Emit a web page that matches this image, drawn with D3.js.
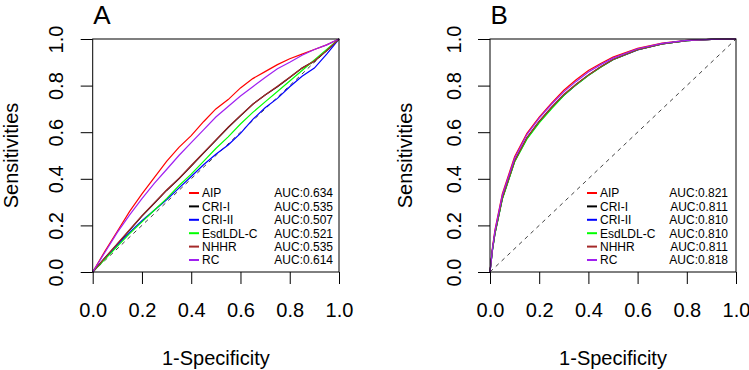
<!DOCTYPE html>
<html>
<head>
<meta charset="utf-8">
<script src="https://cdn.jsdelivr.net/npm/d3@7"></script>
<style>
  html, body { margin: 0; padding: 0; background: #fff; }
  svg text { font-family: "Liberation Sans", Arial, sans-serif; fill: #000; }
</style>
</head>
<body>
<svg id="chart" width="749" height="370"></svg>
<script>
// ---------------- data ----------------
const seriesNames = ["AIP", "CRI-I", "CRI-II", "EsdLDL-C", "NHHR", "RC"];
const seriesColors = ["#FF0000", "#000000", "#0000FF", "#00FF00", "#A52A2A", "#A020F0"];
const aucA = ["0.634", "0.535", "0.507", "0.521", "0.535", "0.614"];
const aucB = ["0.821", "0.811", "0.810", "0.810", "0.811", "0.818"];
const tickValues = [0, 0.2, 0.4, 0.6, 0.8, 1.0];
const tickLabels = ["0.0", "0.2", "0.4", "0.6", "0.8", "1.0"];

// Panel A (1-specificity grid)
const fprA = [0, .05, .1, .15, .2, .25, .3, .35, .4, .45, .5, .55, .6, .65, .7, .75, .8, .85, .9, .95, 1];
const tprA_AIP  = [0, .09, .175, .26, .335, .405, .475, .535, .585, .645, .70, .74, .79, .83, .86, .89, .915, .935, .955, .975, 1];
const tprA_CRI1 = [0, .06, .12, .18, .24, .295, .35, .40, .455, .51, .565, .62, .67, .72, .76, .795, .835, .875, .905, .95, 1];
const tprA_CRI2 = [0, .06, .115, .17, .22, .265, .31, .36, .41, .46, .505, .545, .595, .655, .705, .745, .795, .84, .875, .935, 1];
const tprA_Esd  = [0, .055, .11, .165, .215, .265, .315, .37, .42, .475, .53, .58, .635, .685, .73, .775, .82, .865, .91, .955, 1];
const tprA_NHHR = [0, .062, .122, .182, .242, .297, .352, .402, .457, .512, .567, .622, .672, .72, .76, .797, .836, .875, .906, .95, 1];
const tprA_RC   = [0, .085, .17, .245, .315, .38, .44, .50, .555, .61, .665, .71, .755, .795, .835, .872, .90, .93, .955, .975, 1];

// Panel B
const fprB = [0, .01, .02, .05, .1, .15, .2, .25, .3, .35, .4, .45, .5, .6, .7, .8, .9, 1];
const tprB_AIP  = [0, .105, .18, .335, .495, .595, .665, .725, .78, .825, .865, .895, .922, .96, .982, .994, .998, 1];
const tprB_CRI1 = [0, .095, .165, .315, .475, .575, .645, .705, .76, .805, .845, .88, .912, .954, .979, .993, .998, 1];
const tprB_CRI2 = [0, .095, .165, .315, .475, .573, .643, .703, .758, .803, .844, .88, .911, .953, .979, .993, .998, 1];
const tprB_Esd  = [0, .093, .163, .312, .472, .57, .64, .70, .757, .803, .843, .879, .911, .954, .979, .993, .998, 1];
const tprB_NHHR = [0, .097, .167, .317, .477, .577, .647, .707, .762, .806, .846, .881, .912, .954, .979, .993, .998, 1];
const tprB_RC   = [0, .10, .175, .33, .488, .59, .66, .72, .773, .818, .858, .89, .918, .958, .981, .994, .998, 1];

const panelA = { letter: "A", fpr: fprA, auc: aucA,
  tpr: [tprA_AIP, tprA_CRI1, tprA_CRI2, tprA_Esd, tprA_NHHR, tprA_RC],
  left: 92.7, right: 339, legX: 189, aucX: 333, ytick: 63, ytitle: 17.5 };
const panelB = { letter: "B", fpr: fprB, auc: aucB,
  tpr: [tprB_AIP, tprB_CRI1, tprB_CRI2, tprB_Esd, tprB_NHHR, tprB_RC],
  left: 490, right: 736, legX: 587, aucX: 728, ytick: 461, ytitle: 412 };

// ---------------- drawing ----------------
const svg = d3.select("#chart");
const plotTop = 39, plotBottom = 272;

function drawPanel(p) {
  const g = svg.append("g");
  const x = d3.scaleLinear().domain([0, 1]).range([p.left, p.right]);
  const y = d3.scaleLinear().domain([0, 1]).range([plotBottom, plotTop]);

  // diagonal
  g.append("line")
    .attr("x1", x(0)).attr("y1", y(0)).attr("x2", x(1)).attr("y2", y(1))
    .attr("stroke", "#444").attr("stroke-width", 1).attr("stroke-dasharray", "4,4");

  // curves
  const line = d3.line().x(d => x(d[0])).y(d => y(d[1]));
  p.tpr.forEach((t, i) => {
    const pts = p.fpr.map((f, j) => [f, t[j]]);
    g.append("path").datum(pts).attr("d", line)
      .attr("fill", "none").attr("stroke", seriesColors[i]).attr("stroke-width", 1.2);
  });

  // box
  g.append("rect").attr("x", x(0)).attr("y", y(1))
    .attr("width", x(1) - x(0)).attr("height", y(0) - y(1))
    .attr("fill", "none").attr("stroke", "#000").attr("stroke-width", 1);

  // x axis
  const xAxis = d3.axisBottom(x).tickValues(tickValues)
    .tickFormat((d, i) => tickLabels[i]).tickSize(12).tickPadding(6);
  const gx = g.append("g").attr("transform", `translate(0,${plotBottom})`).call(xAxis);
  gx.select(".domain").remove();
  gx.selectAll("line").attr("stroke", "#000");
  gx.selectAll("text").attr("font-size", 20).attr("dy", null).attr("y", 44.5)
    .attr("fill", "#000")
    .style("font-family", "'Liberation Sans', Arial, sans-serif");

  // y axis
  const yAxis = d3.axisLeft(y).tickValues(tickValues)
    .tickFormat((d, i) => tickLabels[i]).tickSize(12);
  const gy = g.append("g").attr("transform", `translate(${p.left},0)`).call(yAxis);
  gy.select(".domain").remove();
  gy.selectAll("line").attr("stroke", "#000");
  gy.selectAll("text").remove();
  gy.selectAll(".tick").append("text")
    .attr("transform", `translate(${p.ytick - p.left},0) rotate(-90)`)
    .attr("text-anchor", "middle").attr("font-size", 20).attr("fill", "#000")
    .style("font-family", "'Liberation Sans', Arial, sans-serif")
    .text((d, i) => tickLabels[i]);

  // titles
  g.append("text").attr("x", (x(0) + x(1)) / 2).attr("y", 364.5)
    .attr("text-anchor", "middle").attr("font-size", 20).text("1-Specificity");
  g.append("text").attr("transform", `translate(${p.ytitle},${(plotTop + plotBottom) / 2}) rotate(-90)`)
    .attr("text-anchor", "middle").attr("font-size", 20).text("Sensitivities");
  g.append("text").attr("x", p.left + 0.5).attr("y", 24)
    .attr("font-size", 26).text(p.letter);

  // legend
  const rowY = d3.scaleLinear().domain([0, 5]).range([193, 260]);
  seriesNames.forEach((n, i) => {
    const yy = rowY(i);
    g.append("line").attr("x1", p.legX).attr("x2", p.legX + 10)
      .attr("y1", yy).attr("y2", yy)
      .attr("stroke", seriesColors[i]).attr("stroke-width", 2);
    g.append("text").attr("x", p.legX + 13).attr("y", yy + 4.3)
      .attr("font-size", 12).text(n);
    g.append("text").attr("x", p.aucX).attr("y", yy + 4.3)
      .attr("text-anchor", "end").attr("font-size", 12).text("AUC:" + p.auc[i]);
  });
}

drawPanel(panelA);
drawPanel(panelB);
</script>
</body>
</html>
